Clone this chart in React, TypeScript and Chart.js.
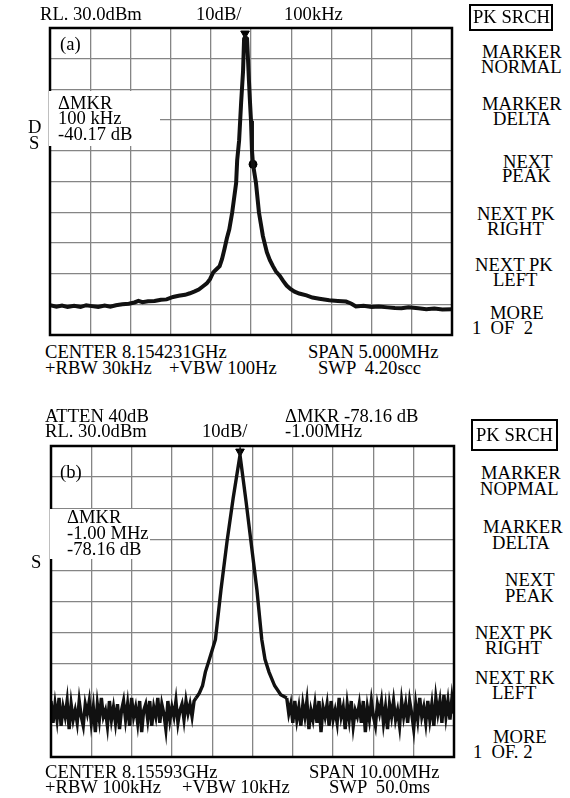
import React, { useEffect, useRef } from "react";
import { Chart, registerables } from "chart.js";
Chart.register(...registerables);

// ---------- shared graticule ----------
const REF_LEVEL = 30; // dBm, top of screen
const BOTTOM_LEVEL = -70; // dBm, bottom of screen
const DB_PER_DIV = 10;

// ---------- panel (a): span 5 MHz, offset from centre in MHz ----------
const A_FREQ_MIN = -2.5;
const A_FREQ_MAX = 2.5;
const A_FREQ_DIV = 0.5;
const A_FREQ = [
  -2.5, -2.42, -2.35, -2.28, -2.2, -2.12, -2.05, -1.98, -1.9, -1.82, -1.75, -1.68, -1.6, -1.52,
  -1.45, -1.4, -1.35, -1.28, -1.2, -1.12, -1.05, -0.97, -0.9, -0.82, -0.76, -0.7, -0.65, -0.6,
  -0.55, -0.51, -0.47, -0.43, -0.39, -0.36, -0.33, -0.3, -0.27, -0.234, -0.185, -0.172, -0.16,
  -0.148, -0.123, -0.099, -0.086, -0.074, -0.049, -0.025, -0.012, 0, 0.012, 0.025, 0.062, 0.099,
  0.148, 0.197, 0.235, 0.271, 0.31, 0.357, 0.4, 0.443, 0.49, 0.542, 0.6, 0.69, 0.764, 0.85, 0.973,
  1.08, 1.182, 1.25, 1.305, 1.4, 1.5, 1.589, 1.7, 1.79, 1.872, 1.96, 2.081, 2.18, 2.28, 2.38, 2.5,
];
const A_LEVEL = [
  -60.3, -60.8, -60.4, -60.9, -60.5, -60.9, -60.3, -60.6, -60.9, -60.4, -60.8, -60.3, -60.0, -59.8,
  -59.4, -58.9, -59.3, -59.0, -58.9, -58.5, -58.4, -57.6, -57.2, -56.9, -56.4, -55.8, -55.2, -54.2,
  -53.2, -51.8, -49.6, -48.6, -47.6, -45.2, -42.0, -38.5, -35.6, -30.1, -20.5, -13.1, -9.9,
  -6.7, 5.6, 15.9, 26.5, 27.1, 26.5, 12.6, 5.6, -0.2, -9.9, -14.4, -20.5, -30.1,
  -37.8, -43.0, -45.6, -47.5, -49.3, -50.7, -52.4, -53.9, -55.0, -55.9, -56.5, -57.1, -57.8, -58.2, -58.7,
  -58.9, -59.1, -59.8, -60.7, -60.5, -60.9, -60.7, -61.0, -61.2, -61.3, -61.0, -61.3, -61.6, -61.4, -61.7, -61.6,
];
const A_PEAK_MARKER = { f: -0.074, level: 28.2 };
const A_DELTA_MARKER = { f: 0.025, level: -14.4 };

// ---------- panel (b): span 10 MHz ----------
const B_FREQ_MIN = -5;
const B_FREQ_MAX = 5;
const B_FREQ_DIV = 1;
const B_NOISE_LEFT_START = -5.0;
const B_NOISE_RIGHT_START = 0.85;
const B_NOISE_STEP = 0.05;
const B_NOISE_LEFT = [
  -52, -59, -53, -58, -51, -60, -54, -57, -52, -61,
  -53, -58, -55, -59, -52, -57, -60, -53, -56, -52,
  -59, -54, -62, -53, -58, -51, -57, -55, -60, -52,
  -58, -54, -59, -53, -61, -55, -52, -58, -53, -60,
  -51, -57, -54, -59, -52, -62, -55, -53, -58, -52,
  -60, -54, -57, -51, -59, -53, -56, -61, -52, -58,
  -54, -57, -52, -59, -55, -53, -58, -52, -56, -53,
  -57, -52, -51,
];
const B_PEAK_FREQ = [-1.4, -1.32, -1.24, -1.17, -1.07, -0.92, -0.78, -0.63, -0.48, -0.31, -0.16, -0.04, 0.11, 0.23, 0.31, 0.41, 0.55, 0.7, 0.85];
const B_PEAK_LEVEL = [-51, -49.5, -47.1, -42.7, -38.6, -32.2, -16, -0.5, 13.2, 27.1, 12.2, -0.5, -16.3, -32.2, -38.6, -42.7, -47.1, -50, -51];
const B_NOISE_RIGHT = [
  -51, -56, -53, -59, -52, -58, -54, -60, -53, -57,
  -52, -61, -55, -58, -53, -59, -52, -62, -54, -57,
  -53, -60, -52, -58, -55, -59, -51, -57, -54, -61,
  -53, -58, -52, -60, -55, -57, -53, -59, -52, -62,
  -54, -58, -52, -57, -60, -53, -56, -52, -59, -54,
  -61, -53, -57, -52, -58, -55, -60, -52, -57, -53,
  -59, -52, -56, -61, -53, -58, -51, -57, -54, -59,
  -52, -58, -53, -60, -51, -56, -52, -59, -50, -57,
  -52, -58, -51, -56,
];
const B_PEAK_MARKER = { f: -0.31, level: 28.2 };

// ---------- layout ----------
const PAD = 4;
const FONT = '"Liberation Serif", "Times New Roman", serif';

const framePlugin = {
  id: "frame",
  afterDatasetsDraw(chart: any) {
    const { ctx, chartArea } = chart;
    ctx.save();
    ctx.strokeStyle = "#000";
    ctx.lineWidth = 2.5;
    ctx.strokeRect(chartArea.left, chartArea.top, chartArea.right - chartArea.left, chartArea.bottom - chartArea.top);
    ctx.restore();
  },
};

function scales(min: number, max: number, step: number) {
  const grid = { color: "#858585", lineWidth: 1.3, drawTicks: false };
  return {
    x: { type: "linear", min, max, ticks: { display: false, stepSize: step }, grid, border: { display: false } },
    y: {
      type: "linear",
      min: BOTTOM_LEVEL,
      max: REF_LEVEL,
      ticks: { display: false, stepSize: DB_PER_DIV },
      grid,
      border: { display: false },
    },
  };
}

function baseOptions(min: number, max: number, step: number) {
  return {
    animation: false,
    responsive: false,
    devicePixelRatio: 1,
    events: [],
    layout: { padding: PAD },
    plugins: { legend: { display: false }, tooltip: { enabled: false } },
    scales: scales(min, max, step),
  };
}

function configA() {
  const trace = A_FREQ.map((f, i) => ({ x: f, y: A_LEVEL[i] }));
  return {
    type: "scatter",
    data: {
      datasets: [
        { data: trace, showLine: true, borderColor: "#111", borderWidth: 4, pointRadius: 0, tension: 0 },
        {
          data: [{ x: A_PEAK_MARKER.f, y: A_PEAK_MARKER.level }],
          pointStyle: "triangle",
          rotation: 180,
          pointRadius: 5,
          backgroundColor: "#000",
          borderColor: "#000",
        },
        {
          data: [{ x: A_DELTA_MARKER.f, y: A_DELTA_MARKER.level }],
          pointStyle: "circle",
          pointRadius: 4,
          backgroundColor: "#000",
          borderColor: "#000",
        },
      ],
    },
    options: baseOptions(A_FREQ_MIN, A_FREQ_MAX, A_FREQ_DIV),
    plugins: [framePlugin],
  };
}

function configB() {
  const left = B_NOISE_LEFT.map((v, i) => ({ x: B_NOISE_LEFT_START + i * B_NOISE_STEP, y: v }));
  const right = B_NOISE_RIGHT.map((v, i) => ({ x: B_NOISE_RIGHT_START + i * B_NOISE_STEP, y: v }));
  const peak = B_PEAK_FREQ.map((f, i) => ({ x: f, y: B_PEAK_LEVEL[i] }));
  return {
    type: "scatter",
    data: {
      datasets: [
        { data: left, showLine: true, borderColor: "#111", borderWidth: 3.4, pointRadius: 0, tension: 0 },
        { data: peak, showLine: true, borderColor: "#111", borderWidth: 3.4, pointRadius: 0, tension: 0 },
        { data: right, showLine: true, borderColor: "#111", borderWidth: 3.4, pointRadius: 0, tension: 0 },
        {
          data: [{ x: B_PEAK_MARKER.f, y: B_PEAK_MARKER.level }],
          pointStyle: "triangle",
          rotation: 180,
          pointRadius: 5,
          backgroundColor: "#000",
          borderColor: "#000",
        },
      ],
    },
    options: baseOptions(B_FREQ_MIN, B_FREQ_MAX, B_FREQ_DIV),
    plugins: [framePlugin],
  };
}

function Panel({ left, top, width, height, make }: { left: number; top: number; width: number; height: number; make: () => any }) {
  const ref = useRef<HTMLCanvasElement>(null);
  useEffect(() => {
    const chart = new Chart(ref.current as HTMLCanvasElement, make());
    return () => chart.destroy();
  }, []);
  const w = width + 2 * PAD;
  const h = height + 2 * PAD;
  return (
    <canvas
      ref={ref}
      width={w}
      height={h}
      style={{ position: "absolute", left: left - PAD, top: top - PAD, width: w, height: h }}
    />
  );
}

function T({ x, y, s }: { x: number; y: number; s: string }) {
  return (
    <div
      style={{
        position: "absolute",
        left: x,
        top: y - 3,
        fontFamily: FONT,
        fontSize: 18.6,
        lineHeight: "18px",
        whiteSpace: "pre",
        color: "#000",
      }}
    >
      {s}
    </div>
  );
}

function Box({ x, y, w, h }: { x: number; y: number; w: number; h: number }) {
  return (
    <div
      style={{ position: "absolute", left: x, top: y, width: w, height: h, border: "2px solid #000", boxSizing: "border-box" }}
    />
  );
}

function Patch({ x, y, w, h }: { x: number; y: number; w: number; h: number }) {
  return <div style={{ position: "absolute", left: x, top: y, width: w, height: h, background: "#fff" }} />;
}

export default function App() {
  return (
    <div style={{ position: "absolute", left: 0, top: 0, width: 570, height: 798, background: "#fff", overflow: "hidden" }}>
      {/* ---------- panel (a) ---------- */}
      <Panel left={48} top={26} width={406} height={311} make={configA} />
      <Patch x={49} y={91} w={111} h={55} />
      <T x={40} y={8} s="RL. 30.0dBm" />
      <T x={196} y={8} s="10dB/" />
      <T x={284} y={8} s="100kHz" />
      <Box x={469} y={4} w={84} h={27} />
      <T x={473} y={11} s="PK SRCH" />
      <T x={482} y={46} s="MARKER" />
      <T x={481} y={61} s="NORMAL" />
      <T x={482} y={98} s="MARKER" />
      <T x={493} y={113} s="DELTA" />
      <T x={503} y={156} s="NEXT" />
      <T x={502} y={170} s="PEAK" />
      <T x={477} y={208} s="NEXT PK" />
      <T x={487} y={223} s="RIGHT" />
      <T x={475} y={259} s="NEXT PK" />
      <T x={493} y={274} s="LEFT" />
      <T x={490} y={307} s="MORE" />
      <T x={472} y={322} s="1  OF  2" />
      <T x={60} y={38} s="(a)" />
      <T x={58} y={97} s="ΔMKR" />
      <T x={58} y={112} s="100 kHz" />
      <T x={58} y={128} s="-40.17 dB" />
      <T x={28} y={121} s="D" />
      <T x={29} y={137} s="S" />
      <T x={45} y={346} s="CENTER 8.154231GHz" />
      <T x={45} y={362} s="+RBW 30kHz" />
      <T x={169} y={362} s="+VBW 100Hz" />
      <T x={308} y={346} s="SPAN 5.000MHz" />
      <T x={318} y={362} s="SWP  4.20scc" />

      {/* ---------- panel (b) ---------- */}
      <Panel left={49} top={444} width={407} height={315} make={configB} />
      <Patch x={50} y={509} w={100} h={50} />
      <T x={45} y={410} s="ATTEN 40dB" />
      <T x={45} y={425} s="RL. 30.0dBm" />
      <T x={202} y={425} s="10dB/" />
      <T x={285} y={410} s="ΔMKR -78.16 dB" />
      <T x={285} y={425} s="-1.00MHz" />
      <Box x={471} y={419} w={87} h={32} />
      <T x={476} y={429} s="PK SRCH" />
      <T x={481} y={467} s="MARKER" />
      <T x={480} y={483} s="NOPMAL" />
      <T x={483} y={521} s="MARKER" />
      <T x={492} y={537} s="DELTA" />
      <T x={505} y={574} s="NEXT" />
      <T x={505} y={590} s="PEAK" />
      <T x={475} y={627} s="NEXT PK" />
      <T x={485} y={642} s="RIGHT" />
      <T x={475} y={672} s="NEXT RK" />
      <T x={492} y={687} s="LEFT" />
      <T x={493} y={731} s="MORE" />
      <T x={473} y={746} s="1  OF. 2" />
      <T x={60} y={466} s="(b)" />
      <T x={67} y={511} s="ΔMKR" />
      <T x={67} y={527} s="-1.00 MHz" />
      <T x={67} y={543} s="-78.16 dB" />
      <T x={31} y={556} s="S" />
      <T x={45} y={766} s="CENTER 8.15593GHz" />
      <T x={45} y={781} s="+RBW 100kHz" />
      <T x={182} y={781} s="+VBW 10kHz" />
      <T x={309} y={766} s="SPAN 10.00MHz" />
      <T x={329} y={781} s="SWP  50.0ms" />
    </div>
  );
}
